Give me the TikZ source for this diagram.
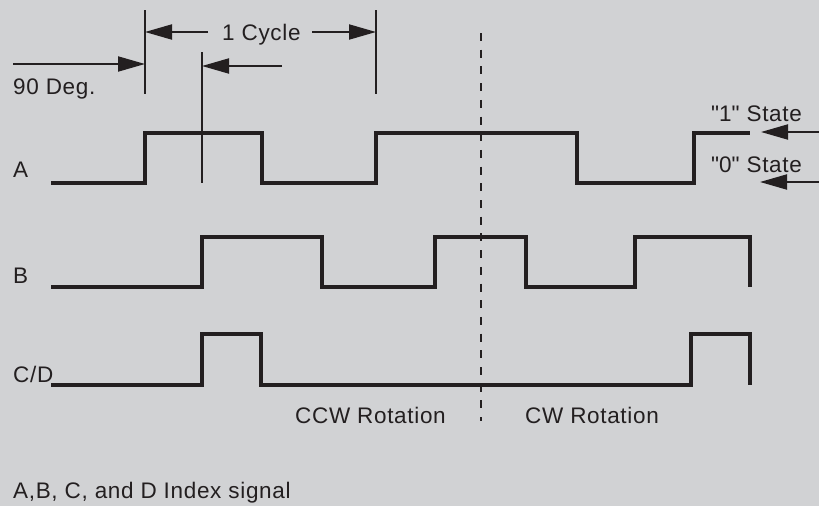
\documentclass[tikz,border=0pt]{standalone}
\usepackage{fontspec}
\setmainfont{Liberation Sans}[LetterSpace=3.0]
\usetikzlibrary{arrows.meta}
\definecolor{bg}{HTML}{D1D2D4}
\definecolor{ink}{HTML}{231F20}
\newcommand\sq{\XeTeXglyph\XeTeXcharglyph"22\relax}
\begin{document}
\begin{tikzpicture}[x=1pt,y=-1pt,
  wave/.style={draw=ink,line width=4pt,line join=miter},
  marker/.style={draw=ink,line width=2pt},
  dimarrow/.style={draw=ink,line width=2pt,-{Triangle[length=27pt,width=15pt]}},
  lbl/.style={anchor=base west,inner sep=0pt,text=ink,font=\fontsize{22.5}{26}\selectfont}]
\fill[bg] (0,0) rectangle (819,506);
\useasboundingbox (0,0) rectangle (819,506);
% waveforms
\draw[wave] (51,183) -- (145,183) -- (145,133) -- (262,133) -- (262,183) -- (376,183) -- (376,133) -- (577,133) -- (577,183) -- (694,183) -- (694,133) -- (750,133);
\draw[wave] (51,287) -- (202,287) -- (202,237) -- (322,237) -- (322,287) -- (435,287) -- (435,237) -- (526,237) -- (526,287) -- (635,287) -- (635,237) -- (750,237) -- (750,287);
\draw[wave] (51,385) -- (202,385) -- (202,334) -- (261,334) -- (261,385) -- (691,385) -- (691,334) -- (750,334) -- (750,385);
% markers
\coordinate (m1t) at (145,10); \coordinate (m1b) at (145,94);
\coordinate (m2t) at (376,10); \coordinate (m2b) at (376,94);
\coordinate (m3t) at (202,52); \coordinate (m3b) at (202,183);
\draw[marker] (m1t) -- (m1b);
\draw[marker] (m2t) -- (m2b);
\draw[marker] (m3t) -- (m3b);
% dashed divider
\coordinate (dt) at (481,33); \coordinate (db) at (481,421);
\draw[draw=ink,line width=2.2pt,dash pattern=on 8pt off 8.7pt] (dt) -- (db);
% arrows
\coordinate (c1s) at (208,32); \coordinate (c1e) at (145,32);
\coordinate (c2s) at (312,32); \coordinate (c2e) at (376,32);
\coordinate (d1s) at (13,64); \coordinate (d1e) at (145,64);
\coordinate (d2s) at (282,66); \coordinate (d2e) at (202,66);
\coordinate (s1s) at (819,132); \coordinate (s1e) at (761,132);
\coordinate (s0s) at (819,182); \coordinate (s0e) at (760,182);
\draw[dimarrow] (c1s) -- (c1e);
\draw[dimarrow] (c2s) -- (c2e);
\draw[dimarrow] (d1s) -- (d1e);
\draw[dimarrow] (d2s) -- (d2e);
\draw[dimarrow] (s1s) -- (s1e);
\draw[dimarrow] (s0s) -- (s0e);
% labels
\node[lbl] (cyc) at (222,40) {1 Cycle};
\node[lbl] (deg) at (13,94) {90 Deg.};
\node[lbl] (la) at (13,177) {A};
\node[lbl] (st1) at (711,121) {\sq1\sq\ State};
\node[lbl] (st0) at (711,172) {\sq0\sq\ State};
\node[lbl] (lb) at (13,283) {B};
\node[lbl] (lcd) at (13,382) {C/D};
\node[lbl] (ccw) at (295,423) {CCW Rotation};
\node[lbl] (cw) at (525,423) {CW Rotation};
\node[lbl] (idx) at (13,498) {A,B, C, and D Index signal};
\end{tikzpicture}
\end{document}
